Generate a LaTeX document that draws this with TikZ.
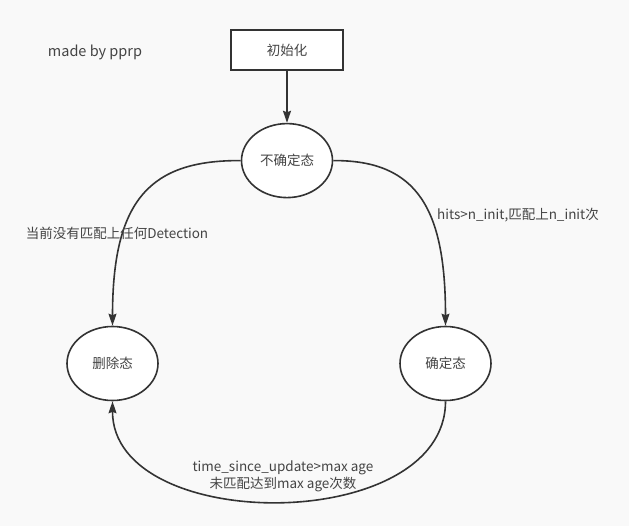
\documentclass[tikz,border=0pt]{standalone}
\usepackage{fontspec}
\setmainfont{Noto Sans CJK SC}
\usetikzlibrary{shapes.geometric,arrows.meta,positioning,calc}
\definecolor{bgcol}{RGB}{249,249,249}
\definecolor{linecol}{RGB}{51,51,51}
\definecolor{txtcol}{RGB}{68,68,68}

\begin{document}
\begin{tikzpicture}[x=1pt, y=1pt, >={Stealth[length=12pt,width=8pt,inset=1.5pt]}, line width=1.6pt, draw=linecol,
    lbl/.style={text=txtcol, font=\fontsize{13.5}{17}\selectfont},
    state/.style={draw=linecol, ellipse, fill=white, minimum width=91pt, minimum height=74pt, inner sep=0pt, lbl}]
    % Canvas
    \fill[bgcol] (0,0) rectangle (629,-526);
    \useasboundingbox (0,0) rectangle (629,-526);

    % Start and states
    \node[lbl, font=\fontsize{14.5}{17}\selectfont] (credit) at (95,-52) {made by pprp};
    \node[draw=linecol, fill=white, rectangle, minimum width=112pt, minimum height=40pt, lbl] (init) at (287,-50) {初始化};
    \node[state, below=52pt of init] (tentative) {不确定态};
    \node[state] (deleted) at (112.5,-363.5) {删除态};
    \node[state] (confirmed) at (445.5,-363.5) {确定态};

    % Transitions
    \draw[->] (init) -- (tentative);
    \draw[->] (tentative.west) .. controls (150,-160) and (112.5,-200) .. (deleted.north);
    \draw[->] (tentative.east) .. controls (418,-160) and (445.5,-210) .. (confirmed.north);
    \draw[->] (confirmed.south) .. controls (445.5,-535) and (112.5,-535) .. (deleted.south);

    % Conditions
    \node[lbl] (lostlbl) at (117,-233) {当前没有匹配上任何Detection};
    \node[lbl] (hitlbl) at (518,-215) {hits>n\_init,匹配上n\_init次};
    \node[lbl, align=center] (agelbl) at (283,-476) {time\_since\_update>max age\\未匹配达到max age次数};
\end{tikzpicture}
\end{document}
